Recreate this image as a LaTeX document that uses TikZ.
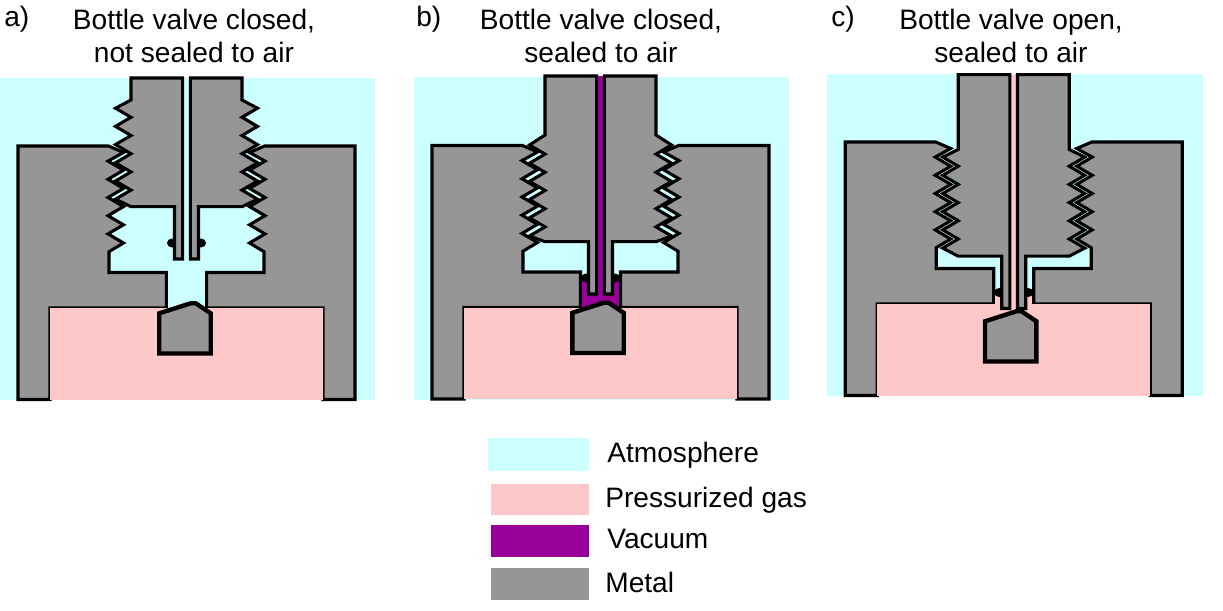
\documentclass[tikz,border=0pt]{standalone}
\usepackage{fontspec}
\setmainfont{Liberation Sans}
\usetikzlibrary{positioning}
\definecolor{atmos}{HTML}{CCFFFF}
\definecolor{gas}{HTML}{FFC8C8}
\definecolor{vac}{HTML}{990099}
\definecolor{metal}{HTML}{969696}
\tikzset{
  metalpart/.style={fill=metal, draw=black, line width=1.75pt, line join=miter},
  poppet/.style={fill=metal, draw=black, line width=2.5pt, line join=miter},
  legendtext/.style={font=\fontsize{16}{19}\selectfont, inner sep=0pt, anchor=west},
  heading/.style={font=\fontsize{16}{19}\selectfont, align=center, inner sep=0pt}
}
\begin{document}
\begin{tikzpicture}[x=0.02cm, y=-0.02cm]
  \useasboundingbox (0,0) rectangle (1223,611);
  % one valve per entry: centre, offset, stem top, travel, thread play, colour of the bore, plug position
  \foreach \cx/\dy/\stemtop/\sh/\play/\bore/\plugx/\plugy in {
      186.5/0/78/0/0.6/atmos/-1.5/0,
      600.5/-0.5/76.5/35.5/2.4/vac/-2.5/0,
      1013.7/-4/78.7/53.5/0/gas/-3/12} {
    \begin{scope}[shift={(\cx,\dy)}]
      \fill[atmos] (-186.7,78) rectangle (188.8,400);
      % body halves
      \foreach \side in {1,-1} {
        \begin{scope}[xscale=\side]
          \draw[metalpart] (-168.5,399.5) -- (-168.5,146) -- (-78,146) -- (-63,152.5)
            \foreach \k in {1,...,5} { -- (-78.5,{161.1+18.2*(\k-1)}) -- (-63,{152+18.2*\k}) }
            -- (-77.5,251.7) -- (-77.5,272.5) -- (-20,272.5) -- (-20,308)
            -- (-136.5,308) -- (-136.5,399.5) -- cycle;
        \end{scope}
      }
      \fill[gas] (-136.5,308) rectangle (136.5,399.5);
      \fill[\bore] (-18.5,{243+\sh}) rectangle (18.5,311);
      \fill[\bore] (-3.8,\stemtop) rectangle (3.8,{262+\sh});
      % sealing ring
      \fill[black] (-14.5,{243+\sh}) ellipse (5 and 4.5);
      \fill[black] (14.5,{243+\sh}) ellipse (5 and 4.5);
      % stem halves
      \foreach \side in {1,-1} {
        \begin{scope}[xscale=\side]
          \draw[metalpart] (-3.8,\stemtop) -- (-55.5,\stemtop) -- (-55.5,{100+\sh})
            \foreach \k in {0,...,4} { -- (-71,{107.6+18.2*\k+\sh+\play}) -- (-55.5,{116.7+18.2*\k+\sh+\play}) }
            -- (-71,{198.6+\sh+\play}) -- (-55.5,{206.7+\sh}) -- (-12,{206.7+\sh})
            -- (-12,{259+\sh}) -- (-3.8,{259+\sh}) -- cycle;
        \end{scope}
      }
      % plug
      \draw[poppet] ({\plugx-25.7},{313.3+\plugy}) -- ({\plugx+5.7},{303.3+\plugy})
        -- ({\plugx+10.7},{303.3+\plugy}) -- ({\plugx+25.7},{313.3+\plugy})
        -- ({\plugx+25.7},{353.5+\plugy}) -- ({\plugx-25.7},{353.5+\plugy}) -- cycle;
    \end{scope}
  }

  \node[heading] (titlea) at (194,36) {Bottle valve closed,\\not sealed to air};
  \node[heading] (titleb) at (601,36) {Bottle valve closed,\\sealed to air};
  \node[heading] (titlec) at (1011,36) {Bottle valve open,\\sealed to air};
  \node[legendtext] (laba) at (4,19) {a)};
  \node[legendtext] (labb) at (416,19) {b)};
  \node[legendtext] (labc) at (831,19) {c)};

  % legend
  \fill[atmos] (488,438) rectangle (589,471);
  \fill[gas] (491,484) rectangle (589,515);
  \fill[vac] (491,525) rectangle (589,557);
  \fill[metal] (491,568) rectangle (589,600);
  \node[legendtext] (atm) at (607,455) {Atmosphere};
  \node[legendtext] (press) at (605,500) {Pressurized gas};
  \node[legendtext] (vacuum) at (607,539) {Vacuum};
  \node[legendtext] (met) at (605,582) {Metal};
\end{tikzpicture}
\end{document}
